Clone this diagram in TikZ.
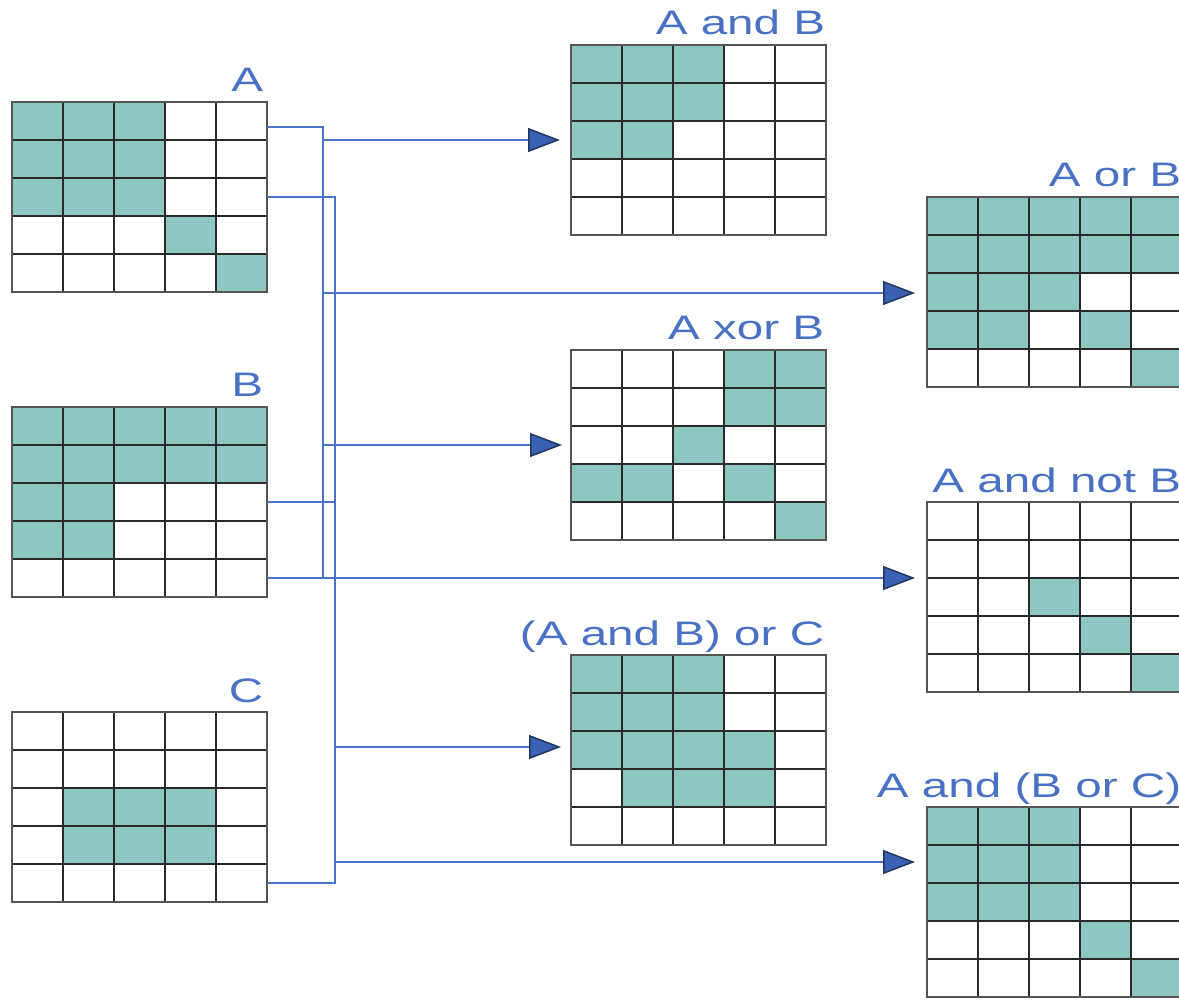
\documentclass[tikz,border=0pt]{standalone}
\usepackage{fontspec}
\newfontfamily\lblfont[FakeStretch=1.40]{Liberation Sans}
\usetikzlibrary{arrows.meta}
\definecolor{cellteal}{HTML}{8CC7C1}
\definecolor{gridcol}{HTML}{2A2A2A}
\definecolor{conncol}{HTML}{4A74C8}
\definecolor{tipfill}{HTML}{3A62B2}
\definecolor{tipdraw}{HTML}{22385F}
\definecolor{lblcol}{HTML}{4A72C4}
\tikzset{
  gridnode/.style={minimum width=255pt,minimum height=190pt,inner sep=0pt,anchor=north west},
  cellfill/.style={fill=cellteal},
  gridline/.style={draw=gridcol,line width=2.3pt},
  gridouter/.style={draw=gridcol!80!white,line width=2.8pt},
  lbl/.style={text=lblcol,font=\lblfont\fontsize{34}{40}\selectfont,inner sep=0pt,anchor=base east},
  conn/.style={draw=conncol,line width=1.5pt},
  connarrow/.style={conn,-{Triangle[length=32pt,width=24pt,fill=tipfill,color=tipdraw]}},
}
\newcommand{\bitgrid}[4]{%
  \node[gridnode] (#1) at (#2,#3) {};
  \foreach \c/\r in {#4} \fill[cellfill,shift={(#1.north west)}] (\c*51,\r*38) rectangle ++(51,38);
  \foreach \i in {1,...,4} \draw[gridline,shift={(#1.north west)}] (\i*51,0) -- (\i*51,190);
  \foreach \j in {1,...,4} \draw[gridline,shift={(#1.north west)}] (0,\j*38) -- (255,\j*38);
  \draw[gridouter,shift={(#1.north west)}] (0,0) rectangle (255,190);
}
\begin{document}
\begin{tikzpicture}[x=1pt,y=-1pt]
\path[use as bounding box,clip] (0,0) rectangle (1179,1000);
% input grids
\bitgrid{A}{12}{102}{0/0,1/0,2/0,0/1,1/1,2/1,0/2,1/2,2/2,3/3,4/4}
\bitgrid{B}{12}{407}{0/0,1/0,2/0,3/0,4/0,0/1,1/1,2/1,3/1,4/1,0/2,1/2,0/3,1/3}
\bitgrid{C}{12}{712}{1/2,2/2,3/2,1/3,2/3,3/3}
% middle column
\bitgrid{AB}{571}{45}{0/0,1/0,2/0,0/1,1/1,2/1,0/2,1/2}
\bitgrid{AxB}{571}{350}{3/0,4/0,3/1,4/1,2/2,0/3,1/3,3/3,4/4}
\bitgrid{ABoC}{571}{655}{0/0,1/0,2/0,0/1,1/1,2/1,0/2,1/2,2/2,3/2,1/3,2/3,3/3}
% right column
\bitgrid{AoB}{927}{197}{0/0,1/0,2/0,3/0,4/0,0/1,1/1,2/1,3/1,4/1,0/2,1/2,2/2,0/3,1/3,3/3,4/4}
\bitgrid{AnB}{927}{502}{2/2,3/3,4/4}
\bitgrid{AaBoC}{927}{807}{0/0,1/0,2/0,0/1,1/1,2/1,0/2,1/2,2/2,3/3,4/4}
% labels
\node[lbl] (lA) at ([xshift=-4pt,yshift=10pt]A.north east) {A};
\node[lbl] (lB) at ([xshift=-4pt,yshift=10pt]B.north east) {B};
\node[lbl] (lC) at ([xshift=-4pt,yshift=10pt]C.north east) {C};
\node[lbl] (lAB) at ([xshift=-1pt,yshift=10pt]AB.north east) {A and B};
\node[lbl] (lAxB) at ([xshift=-2pt,yshift=10pt]AxB.north east) {A xor B};
\node[lbl] (lABoC) at ([xshift=-2pt,yshift=10pt]ABoC.north east) {(A and B) or C};
\node[lbl] (lAoB) at ([xshift=-1pt,yshift=10pt]AoB.north east) {A or B};
\node[lbl] (lAnB) at ([xshift=-1pt,yshift=10pt]AnB.north east) {A and not B};
\node[lbl] (lAaBoC) at ([xshift=-1pt,yshift=10pt]AaBoC.north east) {A and (B or C)};
% connection points
\coordinate (bus1) at (323,0);
\coordinate (bus2) at (335,0);
\coordinate (A1) at ([yshift=-25pt]A.north east);
\coordinate (A2) at ([yshift=-95pt]A.north east);
\coordinate (B1) at ([yshift=-95pt]B.north east);
\coordinate (B2) at ([yshift=-171pt]B.north east);
\coordinate (C1) at ([yshift=-171pt]C.north east);
\coordinate (tAB) at ([xshift=-11pt,yshift=-95pt]AB.north west);
\coordinate (tAxB) at ([xshift=-9pt,yshift=-95pt]AxB.north west);
\coordinate (tABoC) at ([xshift=-10pt,yshift=-92pt]ABoC.north west);
\coordinate (tAoB) at ([xshift=-12pt,yshift=-96pt]AoB.north west);
\coordinate (tAnB) at ([xshift=-12pt,yshift=-76pt]AnB.north west);
\coordinate (tAaBoC) at ([xshift=-12pt,yshift=-55pt]AaBoC.north west);
% bus 1 : A and B
\draw[conn] (A1) -| (bus1 |- B2);
\draw[connarrow] (B2) -- (tAnB);
\draw[connarrow] (bus1 |- tAB) -- (tAB);
\draw[connarrow] (bus1 |- tAoB) -- (tAoB);
\draw[connarrow] (bus1 |- tAxB) -- (tAxB);
% bus 2 : A, B and C
\draw[conn] (A2) -| (bus2 |- C1) -- (C1);
\draw[conn] (B1) -- (bus2 |- B1);
\draw[connarrow] (bus2 |- tABoC) -- (tABoC);
\draw[connarrow] (bus2 |- tAaBoC) -- (tAaBoC);
\end{tikzpicture}
\end{document}
